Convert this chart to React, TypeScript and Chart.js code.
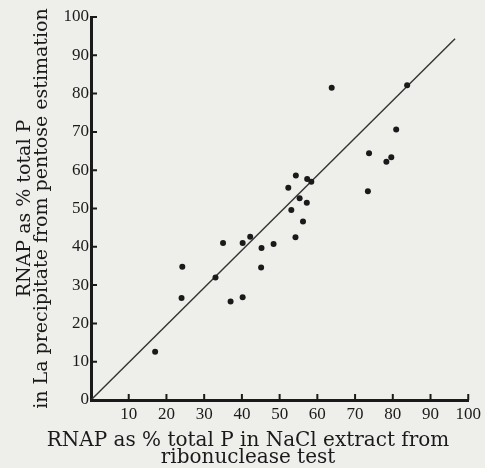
import React, { useEffect, useRef } from 'react';
import { Chart, registerables } from 'chart.js';

Chart.register(...registerables);

// Scatter points: RNAP % (NaCl extract, ribonuclease test) vs RNAP % (La precipitate, pentose)
const xValues = [17, 24, 24.2, 33, 35, 37, 40.2, 40.2, 42.2, 45.2, 45.1, 48.4, 52.3, 53.1, 54.3, 54.2, 55.3, 56.2, 57.2, 57.3, 58.4, 63.8, 73.7, 73.4, 78.3, 79.6, 80.9, 83.8];
const yValues = [12.6, 26.6, 34.8, 32, 41, 25.7, 41, 26.8, 42.6, 39.7, 34.6, 40.7, 55.4, 49.6, 58.6, 42.5, 52.7, 46.6, 51.5, 57.7, 57.0, 81.5, 64.4, 54.5, 62.2, 63.4, 70.6, 82.2];

// Reference line
const lineX = [0, 96.5];
const lineY = [0, 94.3];

const xTickLabels = [10, 20, 30, 40, 50, 60, 70, 80, 90, 100];
const yTickLabels = [0, 10, 20, 30, 40, 50, 60, 70, 80, 90, 100];

const xTitle = ['RNAP as % total P in NaCl extract from', 'ribonuclease test'];
const yTitle = ['RNAP as % total P', 'in La precipitate from pentose estimation'];

const FONT = "'Liberation Serif', 'DejaVu Serif', serif";
const TITLE_FONT = "'DejaVu Serif', 'Liberation Serif', serif";
const INK = '#1a1a1a';
const PAPER = '#eeeeeb';

export default function App() {
  const canvasRef = useRef<HTMLCanvasElement | null>(null);

  useEffect(() => {
    document.body.style.margin = '0';
    document.body.style.background = PAPER;
    const canvas = canvasRef.current;
    if (!canvas) return;

    const bgPlugin = {
      id: 'paperBg',
      beforeDraw(chart: any) {
        const ctx = chart.ctx;
        ctx.save();
        ctx.fillStyle = PAPER;
        ctx.fillRect(0, 0, chart.width, chart.height);
        ctx.restore();
      },
    };

    const innerTicks = {
      id: 'innerTicks',
      afterDatasetsDraw(chart: any) {
        const ctx = chart.ctx;
        const xs = chart.scales.x;
        const ys = chart.scales.y;
        const area = chart.chartArea;
        ctx.save();
        ctx.strokeStyle = INK;
        ctx.lineWidth = 2;
        ctx.beginPath();
        xTickLabels.forEach((v) => {
          const px = xs.getPixelForValue(v);
          ctx.moveTo(px, area.bottom);
          ctx.lineTo(px, area.bottom - 6);
        });
        yTickLabels.forEach((v) => {
          const py = ys.getPixelForValue(v);
          ctx.moveTo(area.left, py);
          ctx.lineTo(area.left + 6, py);
        });
        ctx.stroke();
        ctx.restore();
      },
    };

    const chart = new Chart(canvas, {
      type: 'scatter',
      data: {
        datasets: [
          {
            type: 'scatter',
            data: xValues.map((x, i) => ({ x, y: yValues[i] })),
            backgroundColor: INK,
            borderColor: INK,
            pointRadius: 3,
            pointBorderWidth: 0,
          },
          {
            type: 'line',
            data: lineX.map((x, i) => ({ x, y: lineY[i] })),
            borderColor: '#333333',
            borderWidth: 1.4,
            pointRadius: 0,
            fill: false,
          } as any,
        ],
      },
      options: {
        responsive: false,
        animation: false,
        devicePixelRatio: 1,
        layout: { padding: { top: 17, right: 12, left: 23, bottom: 0 } },
        plugins: {
          legend: { display: false },
          tooltip: { enabled: false },
          title: {
            display: true,
            position: 'bottom',
            text: xTitle,
            color: INK,
            font: { family: TITLE_FONT, size: 20, weight: 'normal', lineHeight: 0.85 },
            padding: { top: 0, bottom: 2 },
          },
        },
        scales: {
          x: {
            type: 'linear',
            min: 0,
            max: 100,
            afterBuildTicks(scale: any) {
              scale.ticks = xTickLabels.map((v) => ({ value: v }));
            },
            afterFit(scale: any) {
              scale.height = 32;
            },
            grid: { display: false, drawTicks: false, tickLength: 0 },
            border: { display: true, color: INK, width: 3 },
            ticks: {
              color: INK,
              padding: 4,
              maxRotation: 0,
              autoSkip: false,
              font: { family: FONT, size: 17 },
            },
          },
          y: {
            type: 'linear',
            min: 0,
            max: 100,
            afterBuildTicks(scale: any) {
              scale.ticks = yTickLabels.map((v) => ({ value: v }));
            },
            afterFit(scale: any) {
              scale.width = 68;
            },
            grid: { display: false, drawTicks: false, tickLength: 0 },
            border: { display: true, color: INK, width: 3 },
            ticks: {
              color: INK,
              padding: 2,
              autoSkip: false,
              font: { family: FONT, size: 17 },
            },
            title: {
              display: true,
              text: yTitle,
              color: INK,
              font: { family: TITLE_FONT, size: 19, lineHeight: 0.92 },
              padding: { top: -7, bottom: 0 },
            },
          },
        },
      },
      plugins: [bgPlugin, innerTicks],
    });

    return () => chart.destroy();
  }, []);

  return (
    <div style={{ width: 485, height: 468 }}>
      <canvas ref={canvasRef} width={485} height={468} style={{ display: 'block', width: 485, height: 468 }} />
    </div>
  );
}
